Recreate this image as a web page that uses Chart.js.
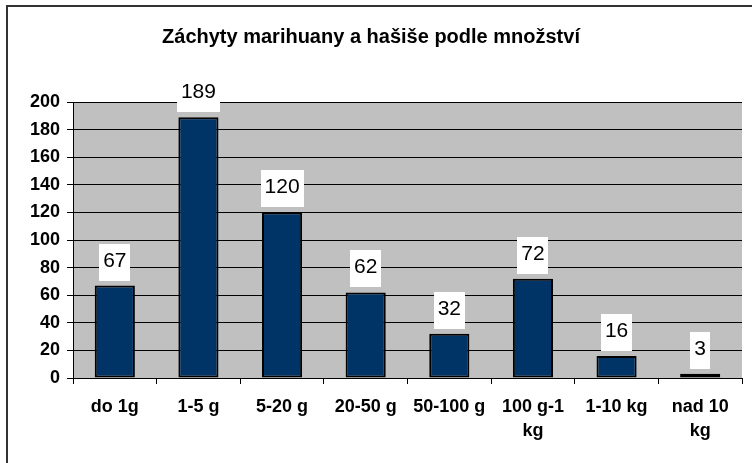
<!DOCTYPE html>
<html><head><meta charset="utf-8">
<script src="https://cdn.jsdelivr.net/npm/chart.js@4/dist/chart.umd.min.js"></script>
<style>
html,body{margin:0;padding:0;background:#fff;overflow:hidden}
#wrap{position:relative;width:752px;height:463px;overflow:hidden}
#frame{position:absolute;left:6px;top:5px;width:800px;height:600px;border:2px solid #333;box-sizing:border-box}
canvas{position:absolute;left:0;top:0}
</style></head><body>
<div id="wrap"><div id="frame"></div><canvas id="c" width="752" height="463"></canvas></div>
<script>
const titleText = 'Záchyty marihuany a hašiše podle množství';
const categories = [['do 1g'], ['1-5 g'], ['5-20 g'], ['20-50 g'], ['50-100 g'], ['100 g-1', 'kg'], ['1-10 kg'], ['nad 10', 'kg']];
const values = [67, 189, 120, 62, 32, 72, 16, 3];
const yMin = 0, yMax = 200, yStep = 20;

const FONT = 'Arial, "Liberation Sans", sans-serif';

const plotBg = {
  id: 'plotBg',
  beforeDraw(chart) {
    const {ctx, chartArea: a} = chart;
    ctx.save();
    ctx.fillStyle = '#C0C0C0';
    ctx.fillRect(a.left, a.top, a.right - a.left, a.bottom - a.top);
    ctx.restore();
  }
};

const valueLabels = {
  id: 'valueLabels',
  afterDatasetsDraw(chart) {
    const ctx = chart.ctx;
    const meta = chart.getDatasetMeta(0);
    ctx.save();
    ctx.font = '21px ' + FONT;
    meta.data.forEach((bar, i) => {
      const txt = String(values[i]);
      const w = Math.round(ctx.measureText(txt).width + 8);
      const h = 37;
      const bottom = Math.round(bar.y - 5);
      ctx.fillStyle = '#fff';
      ctx.fillRect(Math.round(bar.x - w / 2), bottom - h, w, h);
      ctx.fillStyle = '#000';
      ctx.textAlign = 'center';
      ctx.textBaseline = 'middle';
      ctx.fillText(txt, bar.x, bottom - h / 2 - 1);
    });
    ctx.restore();
  }
};

new Chart(document.getElementById('c'), {
  type: 'bar',
  data: {
    labels: categories,
    datasets: [{
      data: values,
      backgroundColor: '#003366',
      borderColor: '#000',
      borderWidth: 2,
      borderSkipped: false,
      categoryPercentage: 1,
      barPercentage: 0.48
    }]
  },
  options: {
    responsive: false,
    devicePixelRatio: 1,
    animation: false,
    layout: {padding: {left: 0, right: 10, top: 0, bottom: 0}},
    plugins: {
      legend: {display: false},
      tooltip: {enabled: false},
      title: {
        display: true,
        text: titleText,
        color: '#000',
        font: {family: FONT, size: 20, weight: 'bold', lineHeight: 1.2},
        padding: {top: 25.5, bottom: 52.5}
      }
    },
    scales: {
      y: {
        min: yMin, max: yMax,
        ticks: {stepSize: yStep, color: '#000', padding: 7, font: {family: FONT, size: 18, weight: 'bold'}},
        grid: {color: '#000', lineWidth: 1, tickLength: 6},
        border: {color: '#000', width: 1},
        afterFit(s) { s.width = 73; }
      },
      x: {
        ticks: {color: '#000', padding: 12, maxRotation: 0, autoSkip: false, font: {family: FONT, size: 18, weight: 'bold', lineHeight: 1.28}},
        grid: {offset: true, drawOnChartArea: false, color: '#000', tickLength: 6},
        border: {color: '#000', width: 1},
        afterFit(s) { s.height = 85; }
      }
    }
  },
  plugins: [plotBg, valueLabels]
});
</script>
</body></html>
